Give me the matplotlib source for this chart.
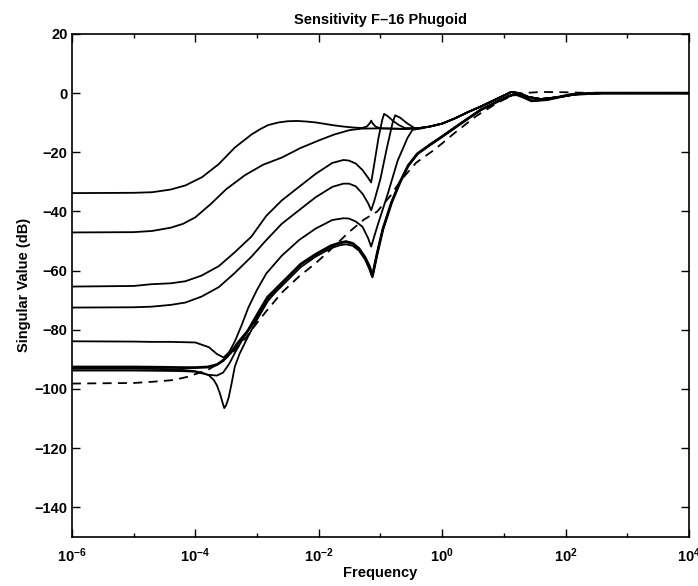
import numpy as np
import matplotlib
matplotlib.use("Agg")
import matplotlib.pyplot as plt
from matplotlib.ticker import FixedLocator, NullFormatter

plt.rcParams['font.family'] = ['Liberation Sans', 'DejaVu Sans']
plt.rcParams['font.weight'] = 'bold'
plt.rcParams['mathtext.default'] = 'regular'

# log10(frequency) and singular value (dB) for each loop
lf_a = [-6, -5.0, -4.7, -4.4, -4.16, -3.89, -3.62, -3.36, -3.09, -2.95, -2.82, -2.65, -2.5, -2.35, -2.2,
        -2.05, -1.9, -1.75, -1.6, -1.45, -1.3, -1.22, -1.17, -1.15, -1.13, -1.08, -1.0]
db_a = [-33.8, -33.7, -33.5, -32.6, -31.2, -28.4, -24.0, -18.4, -14.0, -12.2, -10.8, -9.9, -9.5, -9.4, -9.6,
        -9.9, -10.4, -10.9, -11.3, -11.6, -11.8, -11.3, -10.1, -9.3, -10.1, -11.3, -11.9]

lf_b = [-6, -5.0, -4.7, -4.4, -4.2, -4.0, -3.75, -3.5, -3.2, -2.9, -2.6, -2.3, -2.0, -1.75, -1.5, -1.3, -1.0]
db_b = [-47.1, -47.0, -46.6, -45.5, -44.2, -42.0, -37.5, -32.5, -27.8, -24.2, -21.8, -18.6, -16.0, -14.0,
        -12.5, -12.0, -11.9]

lf_c = [-6, -5.0, -4.71, -4.4, -4.16, -3.9, -3.62, -3.36, -3.09, -2.85, -2.6, -2.32, -2.05, -1.78, -1.6,
        -1.51, -1.4, -1.29, -1.2, -1.15, -1.1, -1.03, -0.97, -0.94, -0.88, -0.8, -0.7, -0.6]
db_c = [-65.4, -65.2, -64.6, -64.3, -63.6, -61.7, -58.5, -53.8, -48.5, -41.5, -36.3, -31.7, -27.3, -23.6,
        -22.6, -22.8, -23.8, -26.0, -28.6, -30.2, -24.0, -15.0, -9.0, -7.0, -7.8, -9.3, -10.8, -11.8]

lf_d = [-6, -5.0, -4.71, -4.4, -4.16, -3.9, -3.62, -3.36, -3.09, -2.85, -2.6, -2.32, -2.05, -1.78, -1.6,
        -1.51, -1.4, -1.29, -1.2, -1.15, -1.1, -1.0, -0.9, -0.8, -0.76, -0.68, -0.58, -0.45]
db_d = [-72.5, -72.4, -72.2, -71.6, -70.8, -68.8, -65.6, -60.8, -55.3, -49.7, -44.2, -39.6, -35.2, -31.7,
        -30.6, -30.6, -31.5, -34.0, -37.2, -39.6, -36.5, -29.0, -19.0, -9.8, -7.5, -8.3, -10.0, -11.8]

lf_e = [-6, -5.0, -4.71, -4.4, -4.0, -3.78, -3.65, -3.54, -3.45, -3.36, -3.25, -3.14, -3.0, -2.85, -2.6,
        -2.32, -2.05, -1.78, -1.6, -1.51, -1.4, -1.29, -1.2, -1.15, -1.05, -0.88, -0.72, -0.56, -0.48, -0.35]
db_e = [-83.9, -84.0, -84.1, -84.1, -84.3, -85.9, -88.2, -89.4, -87.5, -84.0, -78.5, -72.5, -66.5, -61.0,
        -55.0, -49.7, -45.8, -42.9, -42.3, -42.4, -43.4, -45.2, -49.0, -51.9, -45.0, -34.0, -22.8, -15.1,
        -12.4, -12.0]

# shared high-frequency part of the upper loops
lf_upper = [-0.8, -0.6, -0.4, -0.2, 0.0, 0.2, 0.42, 0.63, 0.84, 1.0, 1.12, 1.25, 1.4, 1.6, 1.9, 2.2, 2.6,
            3.0, 4.0]
db_upper = [-12.0, -12.1, -11.9, -11.3, -10.3, -8.6, -6.4, -4.5, -2.4, -0.8, 0.4, 0.0, -1.3, -2.0, -1.3,
            -0.3, 0.0, 0.0, 0.0]

# low loops (thick bundle)
lf_b1 = [-6, -5.0, -4.5, -4.2, -4.0, -3.8, -3.65, -3.55, -3.42, -3.3, -3.15, -3.0, -2.83, -2.53, -2.29,
         -2.05, -1.8, -1.65, -1.56, -1.45, -1.35, -1.25, -1.18, -1.13, -1.05, -0.96, -0.82, -0.68, -0.55,
         -0.4, -0.2, -0.05, 0.3, 0.63, 0.9, 1.06, 1.18, 1.3, 1.45, 1.7, 2.08, 2.5, 3.0, 4.0]
db_b1 = [-92.6, -92.6, -92.7, -92.8, -92.8, -92.6, -91.8, -90.4, -87.6, -84.2, -80.4, -75.0, -69.0, -62.8,
         -57.8, -54.5, -51.6, -50.6, -50.2, -50.8, -52.5, -55.5, -58.5, -61.8, -54.0, -46.0, -37.0, -30.0,
         -24.5, -20.5, -17.5, -15.4, -10.3, -5.6, -2.8, -1.2, -0.3, -1.2, -2.6, -2.2, -0.5, 0.0, 0.0, 0.0]

lf_b2 = [-6, -5.0, -4.5, -4.2, -4.0, -3.8, -3.65, -3.55, -3.45, -3.35, -3.2, -3.0, -2.83, -2.53, -2.29,
         -2.05, -1.8, -1.65, -1.56, -1.45, -1.35, -1.25, -1.18, -1.13]
db_b2 = [-93.8, -93.8, -93.9, -94.0, -94.2, -95.2, -95.5, -94.5, -91.5, -87.5, -82.0, -76.0, -70.0, -63.8,
         -58.8, -55.3, -52.4, -51.4, -51.1, -51.6, -53.2, -56.2, -59.5, -62.3]

lf_f = [-6, -5.0, -4.5, -4.2, -4.0, -3.85, -3.78, -3.7, -3.65, -3.6, -3.56, -3.53, -3.5, -3.46, -3.41,
        -3.36, -3.28, -3.15, -3.0, -2.83]
db_f = [-93.2, -93.2, -93.3, -93.6, -94.0, -94.8, -95.4, -97.0, -98.8, -101.6, -104.5, -106.5, -105.5,
        -103.0, -98.0, -92.5, -88.0, -82.5, -76.6, -70.5]

# open loop reference (dashed)
lf_ref = [-6, -5.0, -4.7, -4.4, -4.27, -4.1, -4.0, -3.8, -3.6, -3.4, -3.2, -3.03, -2.86, -2.6, -2.32,
          -2.05, -1.89, -1.7, -1.51, -1.27, -1.05, -0.83, -0.67, -0.42, -0.15, 0.0, 0.2, 0.55, 0.9, 1.1,
          1.3, 1.6, 2.0, 2.5, 4.0]
db_ref = [-98.2, -98.0, -97.6, -97.1, -96.6, -95.8, -95.0, -93.6, -91.2, -87.8, -83.2, -78.5, -74.0, -67.5,
          -62.0, -57.5, -54.5, -50.8, -47.0, -42.8, -40.0, -34.5, -29.5, -23.5, -19.5, -17.0, -13.5, -7.8,
          -3.2, -1.2, 0.0, 0.4, 0.3, 0.0, 0.0]

x_ticks = [1e-6, 1e-4, 1e-2, 1e0, 1e2, 1e4]
x_minor = [1e-5, 1e-3, 1e-1, 1e1, 1e3]
y_ticks = [-140, -120, -100, -80, -60, -40, -20, 0, 20]


def with_tail(lf, db, lf_tail, db_tail):
    """Extend a curve with the part of a shared tail beyond its last point."""
    lf = list(lf)
    db = list(db)
    for x, y in zip(lf_tail, db_tail):
        if x > lf[-1]:
            lf.append(x)
            db.append(y)
    return 10 ** np.array(lf), np.array(db)


fig = plt.figure(figsize=(6.98, 5.86), dpi=100)
ax = fig.add_axes([0.103, 0.084, 0.884, 0.858])

upper = [(lf_a, db_a), (lf_b, db_b), (lf_c, db_c), (lf_d, db_d), (lf_e, db_e)]
for lf, db in upper:
    f, s = with_tail(lf, db, lf_upper, db_upper)
    ax.plot(f, s, color='black', lw=1.3)

f, s = with_tail(lf_b1, db_b1, [], [])
ax.plot(f, s, color='black', lw=2.0)
for lf, db in [(lf_b2, db_b2), (lf_f, db_f)]:
    f, s = with_tail(lf, db, lf_b1, db_b1)
    ax.plot(f, s, color='black', lw=1.3)

f, s = with_tail(lf_ref, db_ref, [], [])
ax.plot(f, s, color='black', lw=1.3, linestyle=(0, (5, 3.5)))

ax.set_xscale('log')
ax.set_xlim(1e-6, 1e4)
ax.set_ylim(-150, 20)
ax.xaxis.set_major_locator(FixedLocator(x_ticks))
ax.xaxis.set_minor_locator(FixedLocator(x_minor))
ax.xaxis.set_minor_formatter(NullFormatter())
ax.set_yticks(y_ticks)

ax.tick_params(which='both', direction='in', top=True, right=True, labelsize=10.5, width=1.0)
ax.tick_params(which='major', length=6)
ax.tick_params(which='minor', length=3)
ax.tick_params(axis='x', pad=7)
ax.tick_params(axis='y', pad=3)
for sp in ax.spines.values():
    sp.set_linewidth(1.2)

ax.set_title('Sensitivity F\u201316 Phugoid', fontsize=10.5, fontweight='bold', pad=7)
ax.set_xlabel('Frequency', fontsize=10.5, fontweight='bold', labelpad=1)
ax.set_ylabel('Singular Value (dB)', fontsize=10.5, fontweight='bold', labelpad=3)

fig.savefig('out.png', dpi=100, facecolor='white')
